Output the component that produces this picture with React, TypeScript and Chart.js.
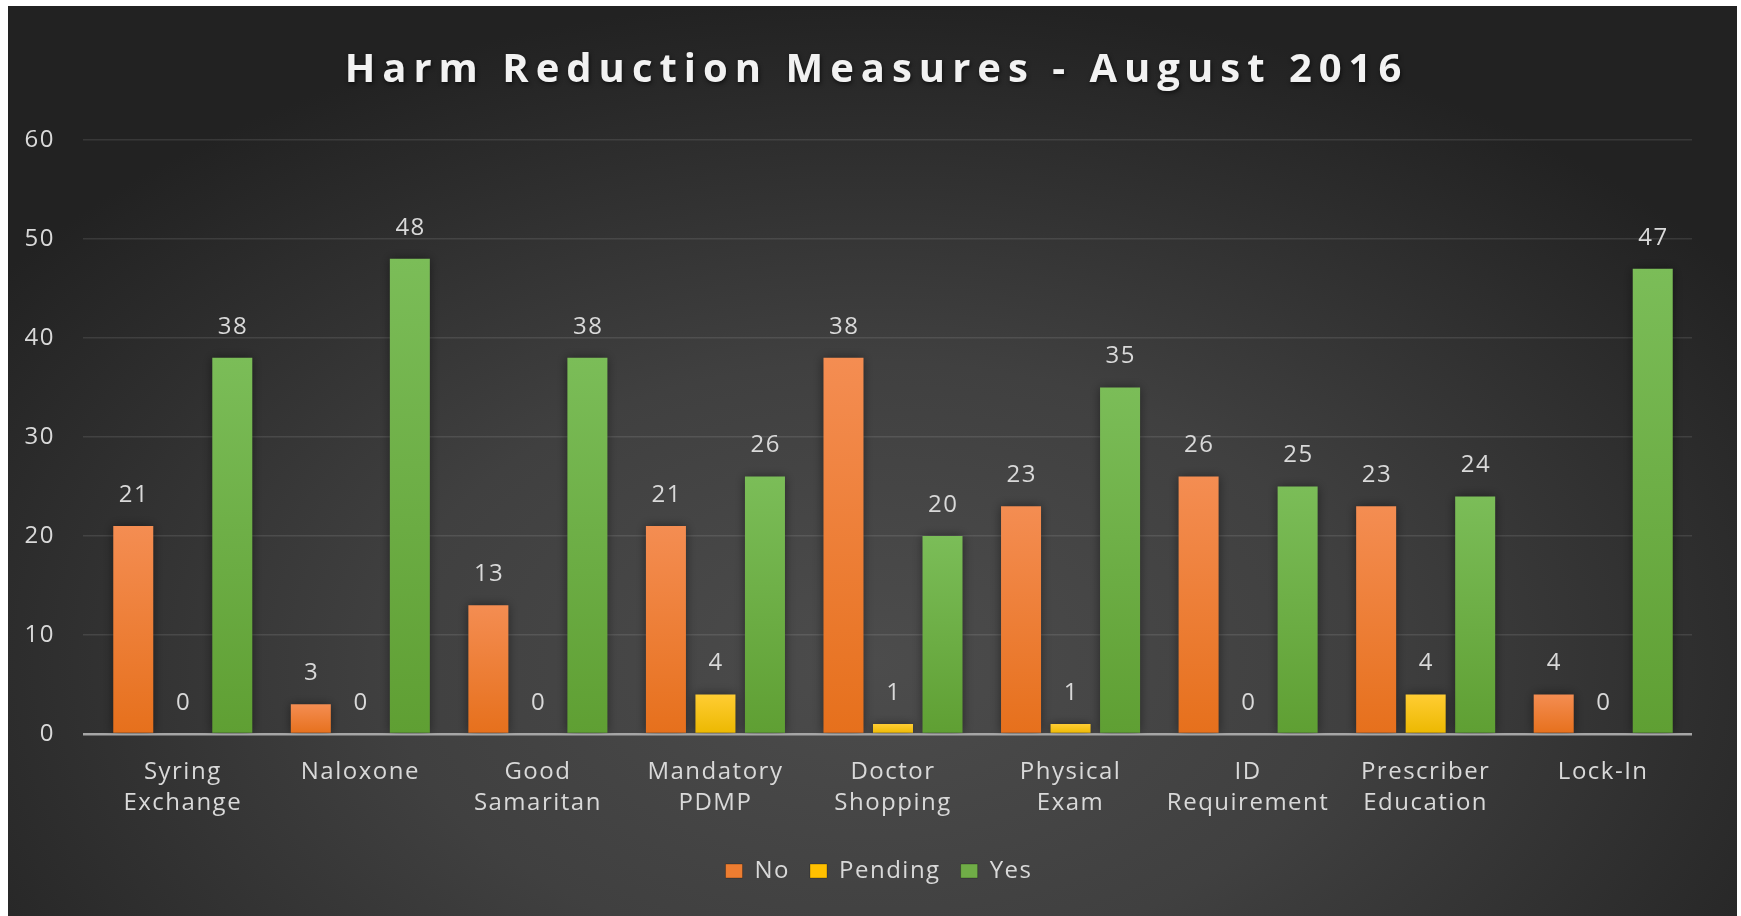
import React, { useEffect, useRef } from "react";
import { Chart, registerables } from "chart.js";

Chart.register(...registerables);

const titleText = "Harm Reduction Measures - August 2016";
const categories: (string | string[])[] = [
  ["Syring", "Exchange"],
  "Naloxone",
  ["Good", "Samaritan"],
  ["Mandatory", "PDMP"],
  ["Doctor", "Shopping"],
  ["Physical", "Exam"],
  ["ID", "Requirement"],
  ["Prescriber", "Education"],
  "Lock-In",
];
const seriesNames = ["No", "Pending", "Yes"];
const noValues = [21, 3, 13, 21, 38, 23, 26, 23, 4];
const pendingValues = [0, 0, 0, 4, 1, 1, 0, 4, 0];
const yesValues = [38, 48, 38, 26, 20, 35, 25, 24, 47];
const yMin = 0;
const yMax = 60;
const yStep = 10;

const FONT = "'Open Sans', 'DejaVu Sans', sans-serif";
const TEXT = "#d9d9d9";
const W = 1729;
const H = 910;

// [top colour, bottom colour, legend colour]
const barColors = [
  ["#f48d52", "#e6701c", "#ed7d31"],
  ["#ffcd33", "#ecb800", "#ffc000"],
  ["#7bbd58", "#5f9f33", "#70ad47"],
];

const backgroundPlugin = {
  id: "bgGrad",
  beforeInit(chart: any) {
    (chart.ctx as any).letterSpacing = "1.5px";
  },
  afterLayout(chart: any) {
    const lg = chart.legend;
    if (lg) {
      lg.left += 20;
      lg.right += 20;
    }
  },
  beforeDraw(chart: any) {
    const { ctx, width, height } = chart;
    (ctx as any).letterSpacing = "1.5px";
    ctx.save();
    const cx = width / 2;
    const cy = height * 0.72;
    const sy = 0.62;
    ctx.translate(cx, cy);
    ctx.scale(1, sy);
    const R = width * 0.62;
    const g = ctx.createRadialGradient(0, 0, 0, 0, 0, R);
    g.addColorStop(0, "#4c4c4c");
    g.addColorStop(0.45, "#404040");
    g.addColorStop(1, "#222222");
    ctx.fillStyle = g;
    ctx.fillRect(-cx, -cy / sy, width, height / sy);
    ctx.restore();
  },
};

const titlePlugin = {
  id: "customTitle",
  afterDraw(chart: any) {
    const { ctx, width } = chart;
    ctx.save();
    ctx.font = `bold 40px ${FONT}`;
    (ctx as any).letterSpacing = "7px";
    ctx.textAlign = "center";
    ctx.textBaseline = "middle";
    ctx.shadowColor = "rgba(0,0,0,0.6)";
    ctx.shadowBlur = 4;
    ctx.shadowOffsetX = 1;
    ctx.shadowOffsetY = 2;
    ctx.fillStyle = "#f2f2f2";
    ctx.fillText(titleText, width / 2 + 4, 65);
    ctx.restore();
  },
};

const barStylePlugin = {
  id: "barStyle",
  beforeDatasetsDraw(chart: any) {
    const { ctx } = chart;
    ctx.save();
    ctx.shadowColor = "rgba(0,0,0,0.45)";
    ctx.shadowBlur = 10;
    ctx.shadowOffsetX = 0;
    ctx.shadowOffsetY = 0;
  },
  afterDatasetsDraw(chart: any) {
    const { ctx } = chart;
    ctx.restore();
    ctx.save();
    ctx.font = `24px ${FONT}`;
    ctx.fillStyle = TEXT;
    ctx.textAlign = "center";
    ctx.textBaseline = "middle";
    chart.data.datasets.forEach((ds: any, di: number) => {
      const meta = chart.getDatasetMeta(di);
      meta.data.forEach((el: any, i: number) => {
        ctx.fillText(String(ds.data[i]), el.x + 0.75, el.y - 31);
      });
    });
    ctx.restore();
  },
};

function barGradient(si: number) {
  return (c: any) => {
    const chart = c.chart;
    const [top, bottom, flat] = barColors[si];
    if (c.type !== "data" || !chart.chartArea || !chart.scales || !chart.scales.y) return flat;
    const yScale = chart.scales.y;
    const v = c.parsed ? c.parsed.y : c.raw;
    const yTop = yScale.getPixelForValue(v);
    const yBase = yScale.getPixelForValue(0);
    if (!isFinite(yTop) || !isFinite(yBase) || yBase - yTop < 1) return flat;
    const g = chart.ctx.createLinearGradient(0, yTop, 0, yBase);
    g.addColorStop(0, top);
    g.addColorStop(1, bottom);
    return g;
  };
}

export default function App() {
  const ref = useRef<HTMLCanvasElement | null>(null);

  useEffect(() => {
    if (!ref.current) return;
    const seriesValues = [noValues, pendingValues, yesValues];
    const chart = new Chart(ref.current, {
      type: "bar",
      data: {
        labels: categories,
        datasets: seriesNames.map((name, i) => ({
          label: name,
          data: seriesValues[i],
          backgroundColor: barGradient(i),
          borderWidth: 0,
          categoryPercentage: 0.8366,
          barPercentage: 0.808,
        })),
      },
      options: {
        responsive: false,
        animation: false,
        layout: { padding: { top: 134, right: 45, left: 0, bottom: 23 } },
        plugins: {
          title: { display: false },
          tooltip: { enabled: false },
          legend: {
            position: "bottom",
            labels: {
              color: TEXT,
              font: { family: FONT, size: 24 },
              boxWidth: 17,
              boxHeight: 14,
              padding: 20,
              generateLabels: (ch: any) =>
                ch.data.datasets.map((ds: any, i: number) => ({
                  text: ds.label,
                  fillStyle: barColors[i][2],
                  strokeStyle: "rgba(0,0,0,0.25)",
                  lineWidth: 1,
                  hidden: false,
                  datasetIndex: i,
                  fontColor: TEXT,
                })),
            },
          },
        },
        scales: {
          x: {
            grid: { display: false },
            border: { display: false },
            ticks: {
              color: TEXT,
              font: { family: FONT, size: 24, lineHeight: 1.3 },
              padding: 14.5,
              maxRotation: 0,
              autoSkip: false,
            },
            afterFit(scale: any) {
              scale.height = 105;
            },
          },
          y: {
            min: yMin,
            max: yMax,
            border: { display: false },
            grid: {
              drawTicks: true,
              tickLength: 11,
              color: (c: any) => (c.tick && c.tick.value === 0 ? "#a6a6a6" : "rgba(255,255,255,0.1)"),
              lineWidth: (c: any) => (c.tick && c.tick.value === 0 ? 2.5 : 1.5),
            },
            ticks: {
              stepSize: yStep,
              color: TEXT,
              font: { family: FONT, size: 24 },
              padding: 28,
            },
            afterFit(scale: any) {
              scale.width = 86;
            },
          },
        },
      },
      plugins: [backgroundPlugin, barStylePlugin, titlePlugin],
    });
    return () => chart.destroy();
  }, []);

  return (
    <div style={{ position: "absolute", left: 8, top: 6, width: W, height: H }}>
      <canvas ref={ref} width={W} height={H} style={{ display: "block", width: W, height: H }} />
    </div>
  );
}
